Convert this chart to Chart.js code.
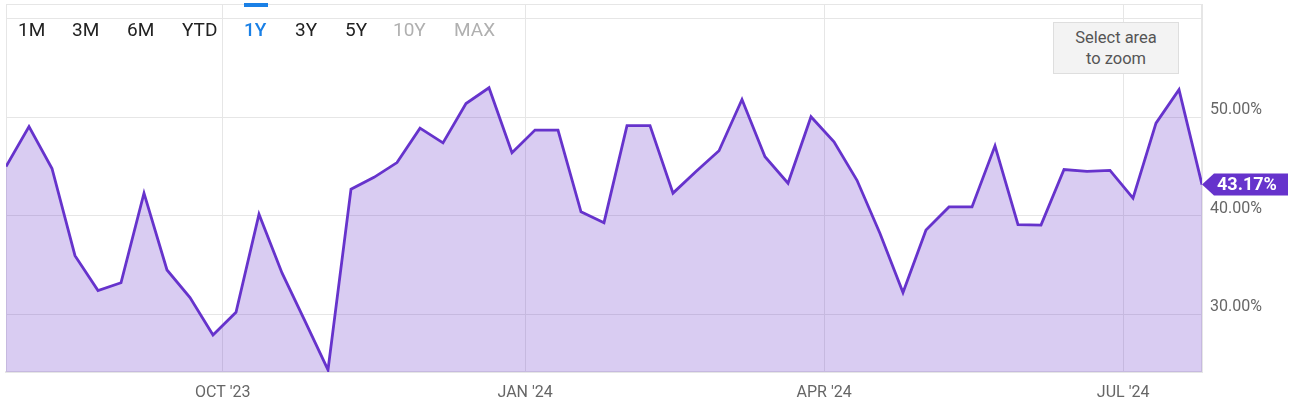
<!DOCTYPE html>
<html><head><meta charset="utf-8">
<script src="https://cdn.jsdelivr.net/npm/chart.js@4"></script>
<style>
html,body{margin:0;padding:0;background:#fff;}
#wrap{position:relative;width:1292px;height:420px;font-family:Roboto,sans-serif;overflow:hidden;}
canvas{position:absolute;left:0;top:0;}
.btn{position:absolute;top:19px;font-size:19px;line-height:22px;color:#222;white-space:nowrap;}
.btn.active{color:#1a80e6;font-weight:500;}
.btn.off{color:#b0b0b0;}
#bar{position:absolute;left:244px;top:3px;width:24px;height:4px;background:#1a80e6;}
#zoombox{position:absolute;left:1053px;top:22px;width:124px;height:50px;background:#f3f3f3;border:1px solid #dedede;display:flex;align-items:center;justify-content:center;text-align:center;font-size:16.5px;line-height:21px;color:#555;}
</style></head>
<body>
<div id="wrap">
<canvas id="c" width="1292" height="420"></canvas>
<div id="bar"></div>
<div class="btn" style="left:18px">1M</div>
<div class="btn" style="left:72px">3M</div>
<div class="btn" style="left:127px">6M</div>
<div class="btn" style="left:182px">YTD</div>
<div class="btn active" style="left:244px">1Y</div>
<div class="btn" style="left:295px">3Y</div>
<div class="btn" style="left:345px">5Y</div>
<div class="btn off" style="left:393px">10Y</div>
<div class="btn off" style="left:454px">MAX</div>
<div id="zoombox"><div>Select area<br>to zoom</div></div>
</div>
<script>
const dates = [
 "2023-07-27","2023-08-03","2023-08-10","2023-08-17","2023-08-24","2023-08-31",
 "2023-09-07","2023-09-14","2023-09-21","2023-09-28","2023-10-05","2023-10-12",
 "2023-10-19","2023-10-26","2023-11-02","2023-11-09","2023-11-16","2023-11-23",
 "2023-11-30","2023-12-07","2023-12-14","2023-12-21","2023-12-28",
 "2024-01-04","2024-01-11","2024-01-18","2024-01-25","2024-02-01","2024-02-08",
 "2024-02-15","2024-02-22","2024-02-29","2024-03-07","2024-03-14","2024-03-21",
 "2024-03-28","2024-04-04","2024-04-11","2024-04-18","2024-04-25","2024-05-02",
 "2024-05-09","2024-05-16","2024-05-23","2024-05-30","2024-06-06","2024-06-13",
 "2024-06-20","2024-06-27","2024-07-04","2024-07-11","2024-07-18","2024-07-25"
];
const values = [
 45.0, 49.05, 44.8, 35.95, 32.4, 33.2, 42.3, 34.5, 31.7, 27.9, 30.2, 40.15,
 34.2, 29.3, 24.35, 42.7, 43.9, 45.4, 48.9, 47.4, 51.4, 53.0, 46.4,
 48.7, 48.7, 40.4, 39.3, 49.15, 49.15, 42.3, 44.5, 46.6, 51.8, 46.0, 43.3,
 50.06, 47.5, 43.6, 38.2, 32.2, 38.55, 40.9, 40.9, 47.1, 39.1, 39.05, 44.7,
 44.5, 44.6, 41.8, 49.4, 52.8, 43.17
];
const xTickDates = ["2023-10-01","2024-01-01","2024-04-01","2024-07-01"];
const xTickLabels = ["OCT '23","JAN '24","APR '24","JUL '24"];
const yTicks = [30, 40, 50, 60];
const yMin = 24.14, yMax = 61.5;

const dayNum = s => Date.parse(s + "T00:00:00Z") / 86400000;
const points = dates.map((d, i) => ({x: dayNum(d), y: values[i]}));

const LINE = '#6633cc';
const GRID = '#e6e6e6';

const frame = {
  id: 'frame',
  beforeDatasetsDraw(chart) {
    const a = chart.chartArea, ctx = chart.ctx;
    ctx.save();
    ctx.strokeStyle = GRID; ctx.lineWidth = 1;
    ctx.strokeRect(a.left + 0.5, a.top + 0.5, a.right - a.left - 1, a.bottom - a.top);
    ctx.restore();
  }
};
const badge = {
  id: 'badge',
  afterDraw(chart) {
    const meta = chart.getDatasetMeta(0);
    const el = meta.data[meta.data.length - 1];
    const x = chart.chartArea.right, y = el.y;
    const ctx = chart.ctx;
    ctx.save();
    ctx.fillStyle = LINE;
    ctx.beginPath();
    ctx.moveTo(x, y);
    ctx.lineTo(x + 12, y - 11);
    ctx.lineTo(x + 86, y - 11);
    ctx.lineTo(x + 86, y + 11);
    ctx.lineTo(x + 12, y + 11);
    ctx.closePath();
    ctx.fill();
    ctx.fillStyle = '#fff';
    ctx.font = 'bold 18px Roboto';
    ctx.textBaseline = 'middle';
    ctx.textAlign = 'left';
    ctx.fillText(values[values.length - 1].toFixed(2) + '%', x + 15, y + 1);
    ctx.restore();
  }
};

new Chart(document.getElementById('c'), {
  type: 'line',
  data: {
    datasets: [{
      data: points,
      borderColor: LINE,
      borderWidth: 2.8,
      backgroundColor: 'rgba(103,51,204,0.25)',
      fill: 'start',
      tension: 0,
      pointRadius: 0
    }]
  },
  options: {
    responsive: false,
    animation: false,
    devicePixelRatio: 1,
    layout: {padding: {left: 6, top: 4, right: 0, bottom: 0}},
    plugins: {legend: {display: false}, tooltip: {enabled: false}},
    scales: {
      x: {
        type: 'linear',
        min: dayNum(dates[0]),
        max: dayNum(dates[dates.length - 1]),
        afterBuildTicks: s => { s.ticks = xTickDates.map(d => ({value: dayNum(d)})); },
        afterFit: s => { s.height = 48; s.paddingLeft = 0; s.paddingRight = 0; },
        ticks: {
          autoSkip: false, maxRotation: 0, padding: 11,
          color: '#666', font: {family: 'Roboto', size: 16},
          callback: (v, i) => xTickLabels[i]
        },
        grid: {color: GRID, drawTicks: false},
        border: {color: GRID, width: 2}
      },
      y: {
        position: 'right',
        min: yMin, max: yMax,
        afterBuildTicks: s => { s.ticks = yTicks.map(v => ({value: v})); },
        afterFit: s => { s.width = 90; s.paddingTop = 0; s.paddingBottom = 0; },
        ticks: {
          padding: 8, labelOffset: -7,
          color: '#666', font: {family: 'Roboto', size: 16},
          callback: v => v === 60 ? '' : v.toFixed(2) + '%'
        },
        grid: {color: GRID, drawTicks: false},
        border: {color: GRID}
      }
    }
  },
  plugins: [frame, badge]
});
</script>
</body></html>
